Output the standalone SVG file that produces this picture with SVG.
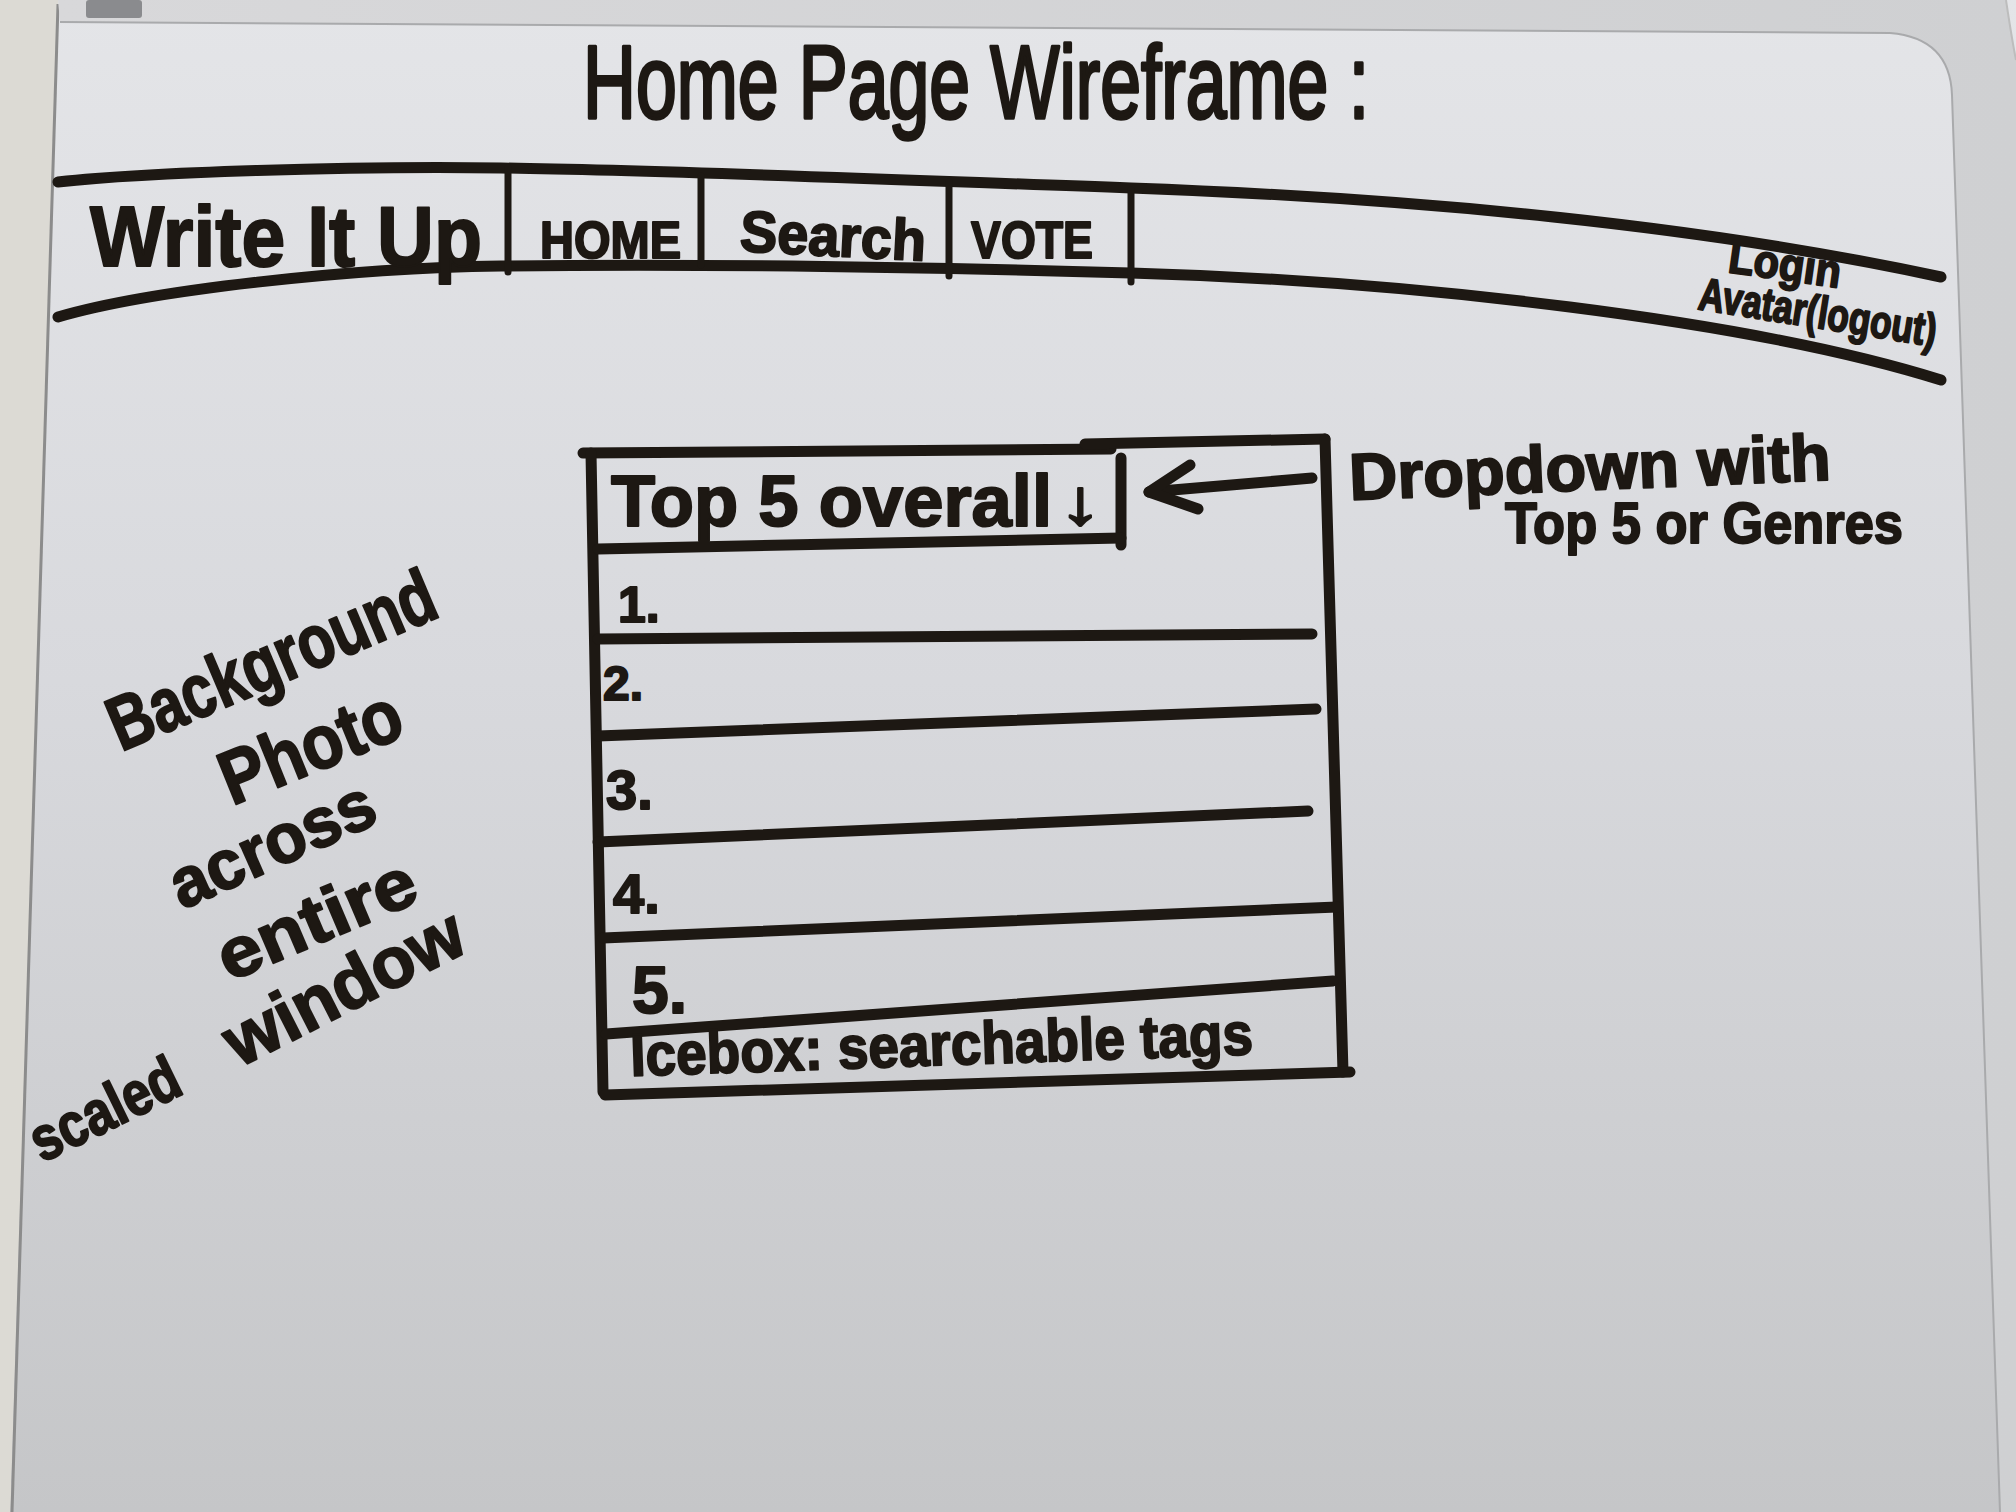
<svg xmlns="http://www.w3.org/2000/svg" width="2016" height="1512" viewBox="0 0 2016 1512">
  <defs>
    <linearGradient id="boardFill" x1="0" y1="0" x2="0" y2="1">
      <stop offset="0" stop-color="#e4e5e8"/>
      <stop offset="0.45" stop-color="#d8d9dd"/>
      <stop offset="1" stop-color="#c5c6c8"/>
    </linearGradient>
    <linearGradient id="frameFill" x1="0" y1="0" x2="1" y2="0">
      <stop offset="0" stop-color="#d8d8da"/>
      <stop offset="1" stop-color="#cfd0d2"/>
    </linearGradient>
    <style>
      .ink { fill: #1d1813; stroke: #1d1813; stroke-width: 2; stroke-linejoin: round; font-family: "Liberation Sans", "DejaVu Sans", sans-serif; font-weight: bold; }
      .thin { font-weight: normal; stroke-width: 3.5; }
      .pen { fill: none; stroke: #1d1813; stroke-width: 11; stroke-linecap: round; stroke-linejoin: round; }
      .pen-thin { fill: none; stroke: #1d1813; stroke-width: 7; stroke-linecap: round; stroke-linejoin: round; }
    </style>
  </defs>

  <!-- wall behind the board -->
  <rect x="0" y="0" width="2016" height="1512" fill="#e3dfd6"/>

  <!-- board surface -->
  <path d="M58,0 L2016,0 L2016,1512 L10,1512 Z" fill="url(#boardFill)"/>

  <!-- left aluminium rim -->
  <path d="M0,0 L58,0 L10,1512 L0,1512 Z" fill="#dcdad4"/>
  <path d="M58,4 L12,1512" fill="none" stroke="#8c8c8c" stroke-width="3"/>

  <!-- top rim and right rim with rounded inner corner -->
  <path d="M58,0 L2006,0 L2016,60 L2016,1512 L2000,1512 L1952,95 Q1950,38 1890,33 L60,22 Z" fill="url(#frameFill)"/>
  <path d="M60,22 L1890,33 Q1950,38 1952,95 L2000,1512" fill="none" stroke="#a9aaac" stroke-width="2"/>
  <path d="M2006,0 Q2012,40 2016,60" fill="none" stroke="#bdbdbd" stroke-width="2"/>

  <!-- magnet clip at top left -->
  <rect x="86" y="0" width="56" height="18" rx="3" fill="#77787a" opacity="0.8"/>

  <!-- page title -->
  <g id="title">
    <text class="ink thin" x="583" y="118" font-size="104" textLength="786" lengthAdjust="spacingAndGlyphs">Home Page Wireframe :</text>
  </g>

  <!-- navigation bar -->
  <g id="navbar">
    <path class="pen" d="M58,182 C150,172 350,166 501,168 C652,170 850,178 1131,188 C1412,198 1700,225 1941,277"/>
    <path class="pen" d="M58,317 C150,290 350,268 501,266 C652,264 850,265 1131,273 C1412,281 1750,320 1941,380"/>
    <path class="pen-thin" d="M508,168 L508,272"/>
    <path class="pen-thin" d="M701,176 L701,265"/>
    <path class="pen-thin" d="M949,182 L949,276"/>
    <path class="pen-thin" d="M1131,190 L1131,282"/>
  </g>
  <g id="nav-brand">
    <text class="ink" x="90" y="266" font-size="86" textLength="392" lengthAdjust="spacingAndGlyphs">Write It Up</text>
  </g>
  <g id="nav-home">
    <text class="ink" x="540" y="258" font-size="52" textLength="141" lengthAdjust="spacingAndGlyphs">HOME</text>
  </g>
  <g id="nav-search">
    <text class="ink" x="740" y="256" font-size="58" textLength="186" lengthAdjust="spacingAndGlyphs" transform="rotate(3 833 240)">Search</text>
  </g>
  <g id="nav-vote">
    <text class="ink" x="971" y="258" font-size="52" textLength="122" lengthAdjust="spacingAndGlyphs">VOTE</text>
  </g>
  <g id="nav-login">
    <text class="ink" x="1727" y="272" font-size="46" textLength="113" lengthAdjust="spacingAndGlyphs" transform="rotate(8 1727 272)">Login</text>
    <text class="ink" x="1697" y="309" font-size="46" textLength="240" lengthAdjust="spacingAndGlyphs" transform="rotate(9 1697 309)">Avatar(logout)</text>
  </g>

  <!-- top five list panel -->
  <g id="top5-panel">
    <path class="pen" d="M583,453 L1111,449"/>
    <path class="pen" d="M1085,444 L1325,439"/>
    <path class="pen" d="M591,453 L603,1092"/>
    <path class="pen" d="M1325,439 L1343,1072"/>
    <path class="pen" d="M1121,458 L1121,545"/>
    <path class="pen" d="M598,549 L1121,538"/>
    <path class="pen" d="M598,639 L1312,634"/>
    <path class="pen" d="M598,736 L1316,709"/>
    <path class="pen" d="M598,842 L1308,811"/>
    <path class="pen" d="M603,938 L1337,907"/>
    <path class="pen" d="M606,1034 L1333,981"/>
    <path class="pen" d="M605,1095 L1350,1072"/>
  </g>
  <g id="top5-dropdown">
    <text class="ink" x="611" y="526" font-size="72" textLength="441" lengthAdjust="spacingAndGlyphs">Top 5 overall</text>
    <text class="ink" x="1058" y="524" font-size="64" font-family="DejaVu Sans, sans-serif" textLength="44" lengthAdjust="spacingAndGlyphs">↓</text>
  </g>
  <g id="row-1"><text class="ink" x="618" y="622" font-size="50">1.</text></g>
  <g id="row-2"><text class="ink" x="603" y="700" font-size="48">2.</text></g>
  <g id="row-3"><text class="ink" x="606" y="809" font-size="56">3.</text></g>
  <g id="row-4"><text class="ink" x="613" y="913" font-size="56">4.</text></g>
  <g id="row-5"><text class="ink" x="632" y="1013" font-size="66">5.</text></g>
  <g id="row-icebox">
    <text class="ink" x="631" y="1076" font-size="60" textLength="623" lengthAdjust="spacingAndGlyphs" transform="rotate(-2 631 1076)">Icebox: searchable tags</text>
  </g>

  <!-- note beside the dropdown -->
  <g id="dropdown-note">
    <text class="ink" x="1350" y="500" font-size="66" textLength="482" lengthAdjust="spacingAndGlyphs" transform="rotate(-2.4 1350 500)">Dropdown with</text>
    <text class="ink" x="1505" y="543" font-size="58" textLength="398" lengthAdjust="spacingAndGlyphs">Top 5 or Genres</text>
  </g>

  <!-- note on the left about the background image -->
  <g id="background-note">
    <text class="ink" x="121" y="752" font-size="76" textLength="349" lengthAdjust="spacingAndGlyphs" transform="rotate(-23 121 752)">Background</text>
    <text class="ink" x="232" y="806" font-size="76" textLength="190" lengthAdjust="spacingAndGlyphs" transform="rotate(-22 232 806)">Photo</text>
    <text class="ink" x="182" y="910" font-size="70" textLength="218" lengthAdjust="spacingAndGlyphs" transform="rotate(-24 182 910)">across</text>
    <text class="ink" x="229" y="982" font-size="70" textLength="210" lengthAdjust="spacingAndGlyphs" transform="rotate(-23 229 982)">entire</text>
    <text class="ink" x="239" y="1068" font-size="72" textLength="260" lengthAdjust="spacingAndGlyphs" transform="rotate(-27 239 1068)">window</text>
    <text class="ink" x="42" y="1163" font-size="62" textLength="160" lengthAdjust="spacingAndGlyphs" transform="rotate(-26 42 1163)">scaled</text>
  </g>

  <!-- connector: note points at the dropdown -->
  <g id="connectors">
    <path class="pen" d="M1312,478 L1149,492"/>
    <path class="pen" d="M1190,465 L1149,492 L1198,509"/>
  </g>
</svg>
